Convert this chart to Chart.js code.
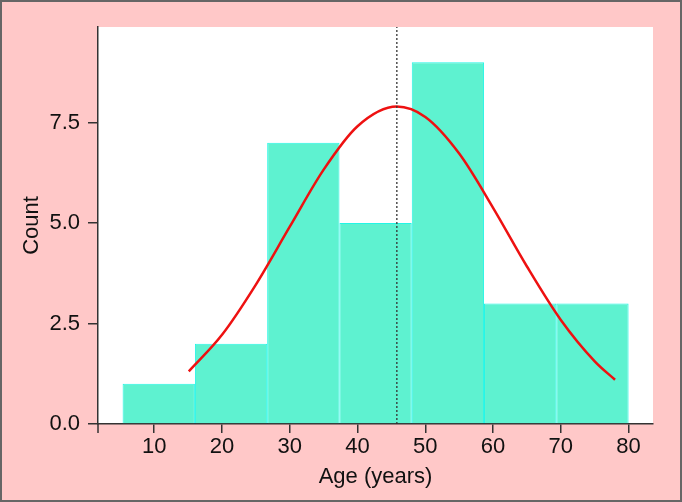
<!DOCTYPE html>
<html>
<head>
<meta charset="utf-8">
<script src="https://cdn.jsdelivr.net/npm/chart.js@4.4.1/dist/chart.umd.min.js"></script>
<style>
  html, body { margin: 0; padding: 0; background: #ffc8c8; }
  #wrap { width: 682px; height: 502px; }
</style>
</head>
<body>
<div id="wrap"><canvas id="ageHist" width="682" height="502"></canvas></div>
<script>
// histogram bins (age, years) and counts
const binEdges = [5.33, 16, 26.67, 37.33, 48, 58.67, 69.33, 80];
const counts = [1, 2, 7, 5, 9, 3, 3];

// fitted normal curve
const curveX = [15.1, 20, 25, 30, 35, 40, 45.8, 50, 55, 60, 65, 70, 75, 78];
const curveY = [1.31, 2.22, 3.47, 4.91, 6.33, 7.41, 7.90, 7.64, 6.73, 5.38, 3.92, 2.59, 1.56, 1.10];

// mean marker
const meanAge = 45.8;

const xTicks = [10, 20, 30, 40, 50, 60, 70, 80];
const yTicks = [0, 2.5, 5, 7.5];
const xRange = [1.7, 83.6];
const yRange = [0, 9.88];

const FONT = "'Liberation Sans', Arial, sans-serif";

const bars = counts.map((c, i) => ({ x: (binEdges[i] + binEdges[i + 1]) / 2, y: c }));
const binWidth = binEdges[1] - binEdges[0];
const tickStep = xTicks[1] - xTicks[0];

const backdrop = {
  id: 'backdrop',
  beforeDraw(chart) {
    const { ctx, chartArea: a, width, height } = chart;
    ctx.save();
    ctx.fillStyle = '#ffc8c8';
    ctx.fillRect(0, 0, width, height);
    ctx.fillStyle = '#ffffff';
    ctx.fillRect(a.left, a.top, a.right - a.left, a.bottom - a.top);
    ctx.strokeStyle = '#666666';
    ctx.lineWidth = 2;
    ctx.strokeRect(1, 1, width - 2, height - 2);
    ctx.restore();
  },
  afterDraw(chart) {
    // little stub where the y axis runs past the x axis
    const { ctx, chartArea: a } = chart;
    ctx.save();
    ctx.strokeStyle = '#333333';
    ctx.lineWidth = 1.5;
    ctx.beginPath();
    ctx.moveTo(a.left, a.bottom);
    ctx.lineTo(a.left, a.bottom + 9);
    ctx.stroke();
    ctx.restore();
  }
};

new Chart(document.getElementById('ageHist'), {
  type: 'bar',
  data: {
    datasets: [
      {
        type: 'line',
        label: 'mean',
        data: [{ x: meanAge, y: yRange[0] }, { x: meanAge, y: yRange[1] }],
        borderColor: '#333333',
        borderWidth: 1.3,
        borderDash: [2, 2],
        pointRadius: 0,
        order: 0
      },
      {
        type: 'line',
        label: 'normal',
        data: curveX.map((x, i) => ({ x: x, y: curveY[i] })),
        borderColor: '#ee1111',
        borderWidth: 2.5,
        pointRadius: 0,
        cubicInterpolationMode: 'monotone',
        order: 1
      },
      {
        label: 'Count',
        data: bars,
        backgroundColor: '#5ef2d0',
        borderColor: '#22f6e6',
        borderWidth: 1,
        barPercentage: binWidth / tickStep,
        categoryPercentage: 1,
        order: 2
      }
    ]
  },
  options: {
    responsive: false,
    animation: false,
    devicePixelRatio: 1,
    layout: { padding: { top: 27, right: 29, left: 0, bottom: 0 } },
    plugins: {
      legend: { display: false },
      tooltip: { enabled: false }
    },
    scales: {
      x: {
        type: 'linear',
        offset: false,
        min: xRange[0],
        max: xRange[1],
        afterBuildTicks: axis => { axis.ticks = xTicks.map(v => ({ value: v })); },
        afterFit: axis => { axis.height = 78; },
        ticks: { color: '#111', font: { family: FONT, size: 22 }, padding: 1, maxRotation: 0 },
        grid: { offset: false, drawOnChartArea: false, drawTicks: true, tickLength: 9, color: '#333', lineWidth: 1.5 },
        border: { display: true, color: '#333', width: 1.5 },
        title: {
          display: true,
          text: 'Age (years)',
          color: '#111',
          font: { family: FONT, size: 22 },
          padding: { top: 0, bottom: 12 }
        }
      },
      y: {
        min: yRange[0],
        max: yRange[1],
        afterBuildTicks: axis => { axis.ticks = yTicks.map(v => ({ value: v })); },
        afterFit: axis => { axis.width = 98; },
        ticks: {
          color: '#111',
          font: { family: FONT, size: 22 },
          padding: 8,
          callback: v => Number(v).toFixed(1)
        },
        grid: { drawOnChartArea: false, drawTicks: true, tickLength: 10, color: '#333', lineWidth: 1.5 },
        border: { display: true, color: '#333', width: 1.5 },
        title: {
          display: true,
          text: 'Count',
          color: '#111',
          font: { family: FONT, size: 22 },
          padding: { top: 19, bottom: 0 }
        }
      }
    }
  },
  plugins: [backdrop]
});
</script>
</body>
</html>
